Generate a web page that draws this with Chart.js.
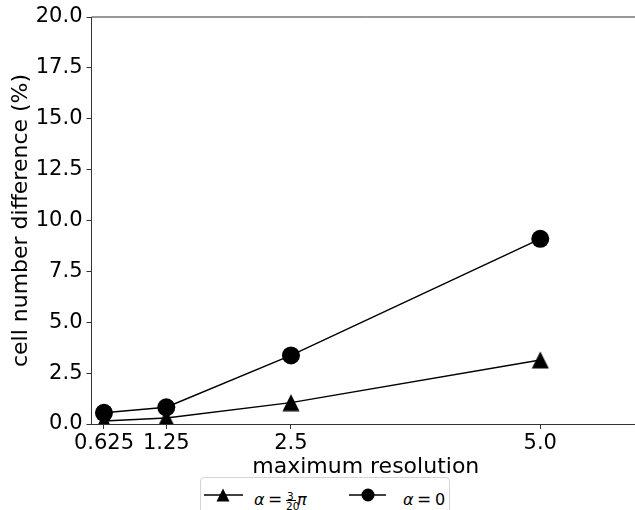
<!DOCTYPE html>
<html><head><meta charset="utf-8">
<script src="https://cdn.jsdelivr.net/npm/chart.js@4/dist/chart.umd.min.js"></script>
<style>
html,body{margin:0;padding:0;background:#fff;overflow:hidden;}
#wrap{position:relative;width:649px;height:510px;}
#legend{position:absolute;left:200px;top:477px;width:248px;height:45px;border:1px solid #d4d4d4;border-radius:4px;background:#fff;font-family:"DejaVu Sans";color:#000;}
.g{position:absolute;font-size:16px;line-height:1;white-space:nowrap;top:14px;}
.it{font-style:italic;}
.f{position:absolute;font-size:10.5px;line-height:1;white-space:nowrap;}
</style>
</head><body>
<div id="wrap">
<canvas id="c" width="649" height="510"></canvas>
<div id="legend">
  <svg width="248" height="40" style="position:absolute;left:-1px;top:-1px">
    <line x1="4" y1="18" x2="43" y2="18" stroke="#000" stroke-width="1.5"/>
    <polygon points="23,11.5 16.5,24.5 29.5,24.5" fill="#000"/>
    <line x1="149" y1="18" x2="186" y2="18" stroke="#000" stroke-width="1.5"/>
    <circle cx="168" cy="18" r="6.5" fill="#000"/>
  </svg>
  <span class="g it" style="left:53px">α</span>
  <span class="g" style="left:67px;font-size:17px;top:13px">=</span>
  <span class="f" style="left:86px;top:12.5px">3</span>
  <span style="position:absolute;left:85px;top:22px;width:10px;height:1px;background:#000"></span>
  <span class="f" style="left:85px;top:22.5px">20</span>
  <span class="g it" style="left:96px">π</span>
  <span class="g it" style="left:202px">α</span>
  <span class="g" style="left:216px;font-size:17px;top:13px">=</span>
  <span class="g" style="left:234px">0</span>
</div>
</div>
<script>
const resolutions = [0.625, 1.25, 2.5, 5.0];
const diffAlphaPi = [0.15, 0.3, 1.05, 3.15];
const diffAlphaZero = [0.55, 0.82, 3.37, 9.1];
const xTickValues = [0.625, 1.25, 2.5, 5.0];
const xTickLabels = ['0.625', '1.25', '2.5', '5.0'];
const seriesLabels = ['α = 3/20 π', 'α = 0'];

const tri = document.createElement('canvas');
tri.width = 18; tri.height = 18;
(function(){const g = tri.getContext('2d'); g.fillStyle = '#000'; g.beginPath(); g.moveTo(9,0.5); g.lineTo(0.5,17.5); g.lineTo(17.5,17.5); g.closePath(); g.fill();})();

const cv = document.getElementById('c');
const axisColor = '#333';
const frame = {
  id: 'frame',
  afterDraw(chart) {
    const {ctx, chartArea: a} = chart;
    ctx.save();
    ctx.strokeStyle = axisColor; ctx.lineWidth = 1;
    ctx.beginPath();
    ctx.moveTo(a.left, a.top); ctx.lineTo(a.right, a.top); ctx.lineTo(a.right, a.bottom);
    ctx.stroke();
    ctx.restore();
  }
};

new Chart(cv, {
  type: 'line',
  data: {
    datasets: [
      { label: seriesLabels[0], data: resolutions.map((x,i)=>({x, y: diffAlphaPi[i]})),
        borderColor: '#000', backgroundColor: '#000', borderWidth: 1.5, pointStyle: tri, pointRadius: 9, pointHoverRadius: 9, pointBorderWidth: 0 },
      { label: seriesLabels[1], data: resolutions.map((x,i)=>({x, y: diffAlphaZero[i]})),
        borderColor: '#000', backgroundColor: '#000', borderWidth: 1.5, pointStyle: 'circle', pointRadius: 9, pointHoverRadius: 9, pointBorderWidth: 0 }
    ]
  },
  options: {
    responsive: false, animation: false, maintainAspectRatio: false,
    layout: { padding: { top: 17, right: 1.5, bottom: 30, left: 0 } },
    plugins: { legend: { display: false }, tooltip: { enabled: false } },
    scales: {
      x: {
        type: 'linear', min: 0.5, max: 6,
        afterBuildTicks: s => { s.ticks = xTickValues.map(v => ({value: v})); },
        afterFit: s => { s.height = 56; },
        ticks: { color: '#000', font: { family: 'DejaVu Sans', size: 21 }, padding: 2, maxRotation: 0,
          callback: v => { const i = xTickValues.indexOf(v); return i >= 0 ? xTickLabels[i] : ''; } },
        grid: { drawOnChartArea: false, drawTicks: true, tickLength: 5, tickColor: axisColor },
        border: { display: true, color: axisColor, width: 1 },
        title: { display: true, text: 'maximum resolution', color: '#000', font: { family: 'DejaVu Sans', size: 22 }, padding: { top: 0, bottom: 0 } }
      },
      y: {
        min: 0, max: 20,
        afterFit: s => { s.width = 91.5; },
        ticks: { stepSize: 2.5, color: '#000', font: { family: 'DejaVu Sans', size: 21 }, padding: 4,
          callback: v => Number(v).toFixed(1) },
        grid: { drawOnChartArea: false, drawTicks: true, tickLength: 5, tickColor: axisColor },
        border: { display: true, color: axisColor, width: 1 },
        title: { display: true, text: 'cell number difference (%)', color: '#000', font: { family: 'DejaVu Sans', size: 22 }, padding: { top: 8, bottom: 0 } }
      }
    }
  },
  plugins: [frame]
});
</script>
</body></html>
